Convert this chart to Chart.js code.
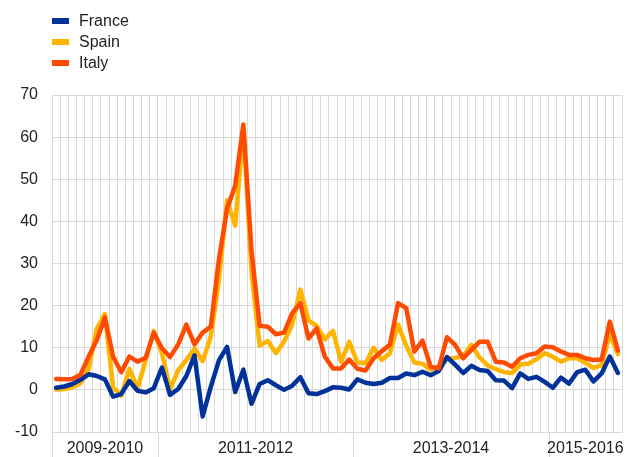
<!DOCTYPE html>
<html>
<head>
<meta charset="utf-8">
<script src="https://cdn.jsdelivr.net/npm/chart.js@4.4.1/dist/chart.umd.min.js"></script>
<style>
  html, body { margin: 0; padding: 0; background: #fff; }
</style>
</head>
<body>
<canvas id="chart" width="630" height="457"></canvas>
<script>
// bandas do eixo x (meses agrupados por biénio)
const bandLabels = ['2009-2010', '2011-2012', '2013-2014', '2015-2016'];
const bandSizes = [13, 24, 24, 9];

const france = [
  0.5, 0.8, 1.4, 2.4, 3.7, 3.3, 2.5, -1.6, -1.0, 2.1,
  -0.2, -0.6, 0.4, 5.3, -1.2, 0.2, 3.3, 8.2, -6.3, 0.7,
  7.0, 10.2, -0.5, 4.8, -3.3, 1.4, 2.3, 1.1, 0.0, 1.0,
  3.0, -0.8, -1.0, -0.3, 0.6, 0.5, 0.1, 2.5, 1.7, 1.4,
  1.7, 2.8, 2.8, 3.9, 3.5, 4.3, 3.5, 4.5, 7.8, 6.0,
  4.0, 5.7, 4.7, 4.5, 2.3, 2.2, 0.4, 3.9, 2.6, 3.1,
  1.9, 0.5, 2.9, 1.5, 4.2, 4.8, 2.0, 3.9, 7.9, 4.0
];
const spain = [
  0.1, 0.2, 0.6, 1.6, 5.0, 14.5, 18.0, 0.6, -1.4, 5.0,
  0.3, 7.0, 14.0, 8.7, 0.2, 4.7, 7.1, 9.8, 6.8, 12.6,
  26.0, 45.0, 39.0, 62.0, 28.0, 10.5, 11.6, 8.7, 11.5, 15.5,
  23.8, 16.5, 15.2, 12.0, 14.0, 6.7, 11.4, 6.5, 6.3, 10.0,
  7.1, 8.7, 15.5, 10.5, 6.5, 6.2, 4.8, 5.6, 7.3, 7.6,
  8.0, 10.7, 7.7, 5.8, 4.9, 4.2, 4.0, 6.0, 6.2, 7.3,
  8.7, 7.9, 6.7, 7.5, 7.5, 6.4, 5.2, 5.9, 13.2, 8.5
];
const italy = [
  2.6, 2.5, 2.6, 3.6, 7.9, 11.8, 17.2, 7.9, 4.2, 7.9,
  6.7, 7.6, 13.6, 9.9, 7.8, 10.8, 15.5, 10.8, 13.6, 15.0,
  31.0, 43.0, 48.5, 63.0, 33.0, 15.2, 15.0, 13.2, 13.6, 18.2,
  20.6, 12.2, 14.6, 7.9, 5.1, 5.1, 7.2, 5.0, 4.6, 7.5,
  9.2, 10.7, 20.6, 19.4, 9.1, 11.7, 5.5, 5.1, 12.5, 10.7,
  7.5, 9.5, 11.4, 11.4, 6.7, 6.5, 5.5, 7.5, 8.3, 8.7,
  10.3, 10.1, 9.1, 8.3, 8.3, 7.5, 7.1, 7.2, 16.2, 9.3
];

const yMin = -10, yMax = 70, yStep = 10;

// uma categoria por mês, dentro de cada banda
const categories = [];
bandSizes.forEach((n, b) => {
  for (let k = 0; k < n; k++) categories.push(bandLabels[b] + ' ' + (k + 1));
});

const gridColor = '#d9d9d9';
const textColor = '#222222';
const fontFamily = '"Liberation Sans", Arial, sans-serif';

// legenda em coluna no canto superior esquerdo
const legendPlugin = {
  id: 'columnLegend',
  afterDraw(chart) {
    const ctx = chart.ctx;
    ctx.save();
    ctx.font = '16px ' + fontFamily;
    ctx.textBaseline = 'middle';
    ctx.textAlign = 'left';
    chart.data.datasets.forEach((ds, i) => {
      const y = 21 + i * 21;
      ctx.fillStyle = ds.borderColor;
      ctx.fillRect(52, y - 3, 17, 6);
      ctx.fillStyle = textColor;
      ctx.fillText(ds.label, 79, y + 1);
    });
    ctx.restore();
  }
};

// separadores e rótulos das bandas por baixo do gráfico
const bandPlugin = {
  id: 'bands',
  afterDraw(chart) {
    const { ctx, chartArea } = chart;
    const x = chart.scales.x;
    const step = x.getPixelForValue(1) - x.getPixelForValue(0);
    const edge = i => x.getPixelForValue(i) - step / 2;
    ctx.save();
    ctx.strokeStyle = gridColor;
    ctx.lineWidth = 1;
    ctx.font = '16px ' + fontFamily;
    ctx.fillStyle = textColor;
    ctx.textAlign = 'center';
    ctx.textBaseline = 'middle';
    let start = 0;
    bandSizes.forEach((n, b) => {
      const x0 = edge(start);
      const x1 = edge(start + n);
      const px = Math.round(x0) + 0.5;
      ctx.beginPath();
      ctx.moveTo(px, chartArea.bottom);
      ctx.lineTo(px, chart.height);
      ctx.stroke();
      ctx.fillText(bandLabels[b], (x0 + x1) / 2, chartArea.bottom + 17);
      start += n;
    });
    ctx.restore();
  }
};

const lineStyle = {
  fill: false,
  tension: 0,
  borderWidth: 4.5,
  pointRadius: 0,
  borderJoinStyle: 'round',
  borderCapStyle: 'round'
};

new Chart(document.getElementById('chart').getContext('2d'), {
  type: 'line',
  data: {
    labels: categories,
    datasets: [
      { label: 'France', data: france, borderColor: '#003299', order: 2, ...lineStyle },
      { label: 'Spain', data: spain, borderColor: '#FFB400', order: 3, ...lineStyle },
      { label: 'Italy', data: italy, borderColor: '#FF4B00', order: 1, ...lineStyle }
    ]
  },
  options: {
    responsive: false,
    animation: false,
    layout: { padding: { top: 95, right: 8, left: 0, bottom: 0 } },
    scales: {
      x: {
        offset: true,
        grid: { offset: true, color: gridColor, drawTicks: false },
        border: { color: gridColor },
        ticks: { display: false },
        afterFit: s => { s.height = 25; }
      },
      y: {
        min: yMin,
        max: yMax,
        grid: { color: gridColor, drawTicks: false },
        border: { color: gridColor },
        ticks: {
          stepSize: yStep,
          padding: 14,
          color: textColor,
          font: { family: fontFamily, size: 16 }
        },
        afterFit: s => { s.width = 52; }
      }
    },
    plugins: {
      legend: { display: false },
      tooltip: { enabled: false }
    }
  },
  plugins: [legendPlugin, bandPlugin]
});
</script>
</body>
</html>
